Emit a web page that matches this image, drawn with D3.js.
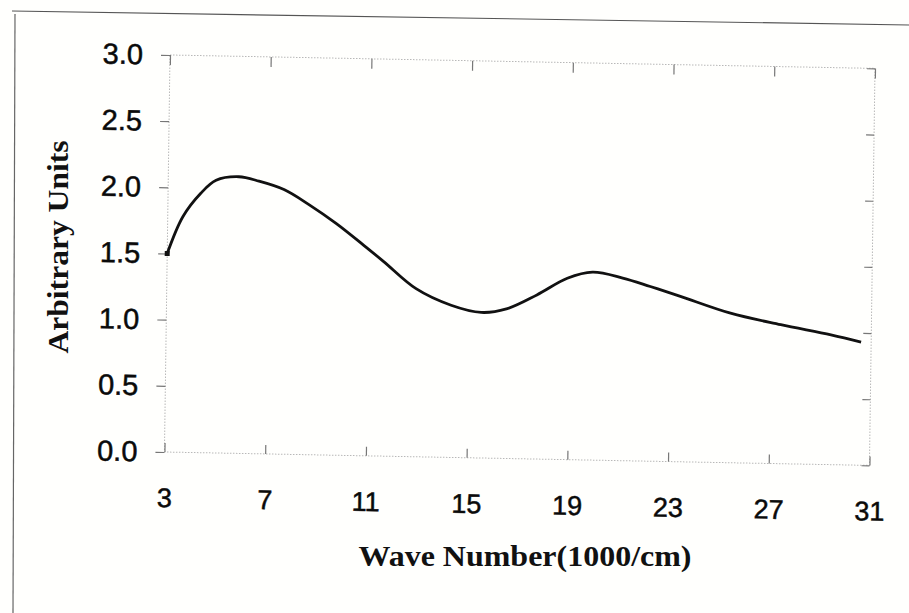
<!DOCTYPE html>
<html>
<head>
<meta charset="utf-8">
<script src="https://cdn.jsdelivr.net/npm/d3@7"></script>
<style>
  body { margin: 0; background: #fff; }
  svg { display: block; }
</style>
</head>
<body>
<div id="chart"></div>
<script>
// values
const waveNumber = [3, 3.6, 4.3, 4.9, 5.8, 6.6, 7.6, 8.6, 9.7, 10.8, 11.6, 12.9, 14.3, 15.5,
  16.5, 17.7, 18.9, 19.9, 21.1, 22.2, 23.4, 25.4, 27.4, 29.4, 30.6];
const intensity = [1.50, 1.78, 1.96, 2.06, 2.09, 2.06, 2.00, 1.89, 1.75, 1.59, 1.47, 1.27, 1.15, 1.10,
  1.13, 1.24, 1.37, 1.42, 1.38, 1.32, 1.25, 1.13, 1.05, 0.98, 0.93];
const xTicks = [3, 7, 11, 15, 19, 23, 27, 31];
const yTicks = [0, 0.5, 1, 1.5, 2, 2.5, 3];

const W = 909, H = 613;
const plotW = 705, plotH = 397;

const svg = d3.select('#chart').append('svg')
  .attr('width', W)
  .attr('height', H);

svg.append('rect').attr('width', W).attr('height', H).attr('fill', '#fffffd');

// page edges from the scan
svg.append('line')
  .attr('x1', 12).attr('y1', 11).attr('x2', W).attr('y2', 25)
  .attr('stroke', '#555').attr('stroke-width', 1.2);
svg.append('line')
  .attr('x1', 15).attr('y1', 14).attr('x2', 13).attr('y2', H)
  .attr('stroke', '#666').attr('stroke-width', 1.2);

const x = d3.scaleLinear().domain([3, 31]).range([0, plotW]);
const y = d3.scaleLinear().domain([0, 3]).range([plotH, 0]);

// the scan is slightly skewed, so the plot group is too
const g = svg.append('g')
  .attr('transform', 'translate(170,55) matrix(1,0.019,-0.014,1,0,0)');

// dotted frame
g.append('rect')
  .attr('width', plotW).attr('height', plotH)
  .attr('fill', 'none')
  .attr('stroke', '#b8b8b8')
  .attr('stroke-width', 1)
  .attr('stroke-dasharray', '1.5,1.5');

const axisL = g.append('g')
  .call(d3.axisLeft(y).tickValues(yTicks).tickFormat(d3.format('.1f'))
    .tickSizeInner(9).tickSizeOuter(0).tickPadding(18));
const axisB = g.append('g')
  .attr('transform', `translate(0,${plotH})`)
  .call(d3.axisBottom(x).tickValues(xTicks).tickFormat(d3.format('d'))
    .tickSizeInner(-9).tickSizeOuter(0).tickPadding(36));
const axisT = g.append('g')
  .call(d3.axisTop(x).tickValues(xTicks).tickFormat('')
    .tickSizeInner(-10).tickSizeOuter(0));
const axisR = g.append('g')
  .attr('transform', `translate(${plotW},0)`)
  .call(d3.axisRight(y).tickValues(yTicks).tickFormat('')
    .tickSizeInner(-8).tickSizeOuter(0));

[axisL, axisB, axisT, axisR].forEach(a => {
  a.select('.domain').remove();
  a.selectAll('.tick line').attr('stroke', '#777').attr('stroke-width', 1.2);
  a.selectAll('.tick text')
    .attr('fill', '#0a0a0a')
    .attr('stroke', '#0a0a0a')
    .attr('stroke-width', 0.5)
    .attr('font-family', '"Liberation Sans", Arial, sans-serif');
});
axisL.selectAll('.tick text').attr('font-size', 29);
axisB.selectAll('.tick text').attr('font-size', 27);

// curve
const line = d3.line()
  .x((d, i) => x(waveNumber[i]))
  .y(d => y(d))
  .curve(d3.curveCatmullRom.alpha(0.5));

g.append('path')
  .datum(intensity)
  .attr('d', line)
  .attr('fill', 'none')
  .attr('stroke', '#111')
  .attr('stroke-width', 2.8);

g.append('rect')
  .attr('x', x(waveNumber[0]) - 2.5)
  .attr('y', y(intensity[0]) - 2.5)
  .attr('width', 5).attr('height', 5)
  .attr('fill', '#111');

// axis titles
svg.append('text')
  .attr('transform', 'translate(68,247) rotate(-90)')
  .attr('text-anchor', 'middle')
  .attr('font-family', '"Liberation Serif", "Times New Roman", serif')
  .attr('font-weight', 'bold')
  .attr('font-size', 29)
  .attr('textLength', 213)
  .attr('lengthAdjust', 'spacingAndGlyphs')
  .attr('fill', '#111')
  .text('Arbitrary Units');

svg.append('text')
  .attr('x', 525).attr('y', 566)
  .attr('text-anchor', 'middle')
  .attr('font-family', '"Liberation Serif", "Times New Roman", serif')
  .attr('font-weight', 'bold')
  .attr('font-size', 29)
  .attr('textLength', 333)
  .attr('lengthAdjust', 'spacingAndGlyphs')
  .attr('fill', '#111')
  .text('Wave Number(1000/cm)');
</script>
</body>
</html>
